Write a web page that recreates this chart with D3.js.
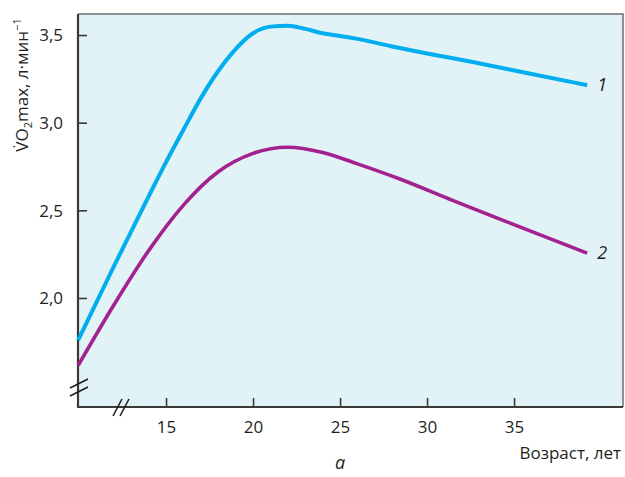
<!DOCTYPE html>
<html><head><meta charset="utf-8">
<script src="https://cdn.jsdelivr.net/npm/d3@7"></script>
<style>body{margin:0;background:#fff}svg{display:block}text{font-family:"Open Sans","Noto Sans",sans-serif;fill:#231f20}</style>
</head><body>
<svg id="c" width="625" height="477"></svg>
<script>
const xTicks = [15, 20, 25, 30, 35];
const yTicks = [2.0, 2.5, 3.0, 3.5];
const ages1 = [9.95, 11, 12, 13, 14, 15, 16, 17, 18, 19, 20, 21, 22, 23, 24, 25, 26, 28, 30, 32.4, 35.8, 39.2];
const vo2_1 = [1.76, 1.975, 2.18, 2.38, 2.58, 2.775, 2.96, 3.14, 3.295, 3.42, 3.51, 3.548, 3.553, 3.535, 3.51, 3.495, 3.478, 3.435, 3.395, 3.35, 3.282, 3.214];
const ages2 = [9.95, 12, 14, 16, 18, 20, 22, 24, 26, 28.4, 31.5, 34.7, 39.2];
const vo2_2 = [1.615, 1.96, 2.27, 2.53, 2.72, 2.825, 2.86, 2.83, 2.765, 2.68, 2.555, 2.43, 2.256];
const seriesLabels = ["1", "2"];

const svg = d3.select("#c");
const L = 78, R = 623, T = 14, B = 407;
const x = d3.scaleLinear().domain([9.94, 41.26]).range([L, R]);
const y = d3.scaleLinear().domain([1.378, 3.62]).range([B, T]);

svg.append("rect").attr("x", L).attr("y", T).attr("width", R - L).attr("height", B - T).attr("fill", "#e1f3f6");
svg.append("path").attr("d", `M${L},${T}H${R}V${B}`).attr("fill", "none").attr("stroke", "#6d6e71").attr("stroke-width", 1.5);

const fmt = d => d3.format(".1f")(d).replace(".", ",");
const yAxis = svg.append("g").attr("transform", `translate(${L},0)`)
  .call(d3.axisRight(y).tickValues(yTicks).tickSize(9).tickFormat(fmt));
yAxis.select(".domain").remove();
yAxis.selectAll("line").attr("stroke", "#3a3a3a").attr("stroke-width", 1.6);
yAxis.selectAll("text").attr("x", -15).attr("text-anchor", "end").attr("font-size", 17).attr("fill", "#231f20").attr("dy", "0.35em");

const xAxis = svg.append("g").attr("transform", `translate(0,${B})`)
  .call(d3.axisTop(x).tickValues(xTicks).tickSize(9));
xAxis.select(".domain").remove();
xAxis.selectAll("line").attr("stroke", "#3a3a3a").attr("stroke-width", 1.6);
xAxis.selectAll("text").attr("y", 26).attr("dy", 0).attr("font-size", 17).attr("fill", "#231f20");

svg.append("path").attr("d", `M${L},${T}V${B}H${R}`).attr("fill", "none").attr("stroke", "#3a3a3a").attr("stroke-width", 2.2);

const brk = svg.append("g").attr("stroke", "#231f20").attr("stroke-width", 1.6);
brk.append("line").attr("x1", 70).attr("y1", 388).attr("x2", 88).attr("y2", 379);
brk.append("line").attr("x1", 70).attr("y1", 396).attr("x2", 88).attr("y2", 387);
brk.append("line").attr("x1", 113).attr("y1", 416).attr("x2", 122).attr("y2", 399);
brk.append("line").attr("x1", 120).attr("y1", 416).attr("x2", 129).attr("y2", 399);

const line = d3.line().x(d => x(d[0])).y(d => y(d[1])).curve(d3.curveMonotoneX);
svg.append("path").datum(ages1.map((a, i) => [a, vo2_1[i]])).attr("d", line)
  .attr("fill", "none").attr("stroke", "#00aeef").attr("stroke-width", 4);
svg.append("path").datum(ages2.map((a, i) => [a, vo2_2[i]])).attr("d", line)
  .attr("fill", "none").attr("stroke", "#a3228f").attr("stroke-width", 3.6);

svg.append("text").attr("x", x(39.2) + 10).attr("y", y(3.214) + 6).attr("font-size", 18).attr("font-style", "italic").text(seriesLabels[0]);
svg.append("text").attr("x", x(39.2) + 10).attr("y", y(2.256) + 6).attr("font-size", 18).attr("font-style", "italic").text(seriesLabels[1]);

const yl = svg.append("text").attr("transform", "translate(28,85) rotate(-90)").attr("text-anchor", "middle").attr("font-size", 17);
yl.append("tspan").text("V\u0307O");
yl.append("tspan").attr("font-size", 11).attr("dy", 4).text("2");
yl.append("tspan").attr("dy", -4).text("max, л·мин");
yl.append("tspan").attr("font-size", 11).attr("dy", -7).text("\u22121");

svg.append("text").attr("x", 621).attr("y", 459).attr("text-anchor", "end").attr("font-size", 17).text("Возраст, лет");
svg.append("text").attr("x", 340).attr("y", 469).attr("text-anchor", "middle").attr("font-size", 18).attr("font-style", "italic").text("a");
</script>
</body></html>
